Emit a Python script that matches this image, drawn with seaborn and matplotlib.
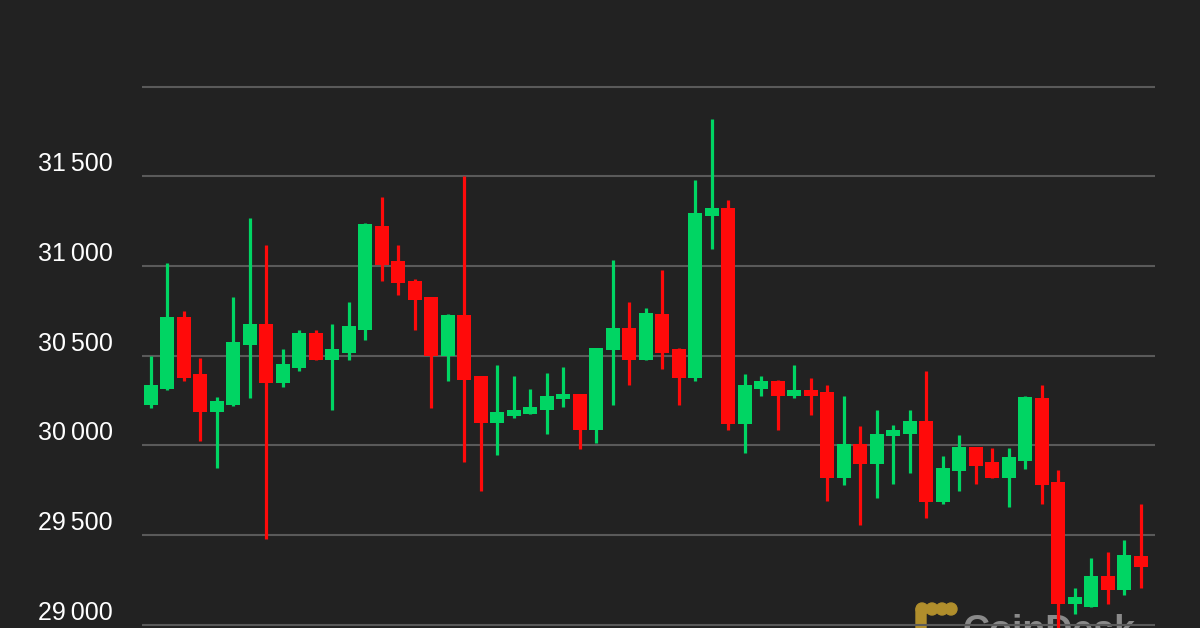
import numpy as np
import pandas as pd
import matplotlib
matplotlib.use("Agg")
import matplotlib.pyplot as plt
import seaborn as sns
from matplotlib.transforms import blended_transform_factory
from matplotlib.patches import FancyBboxPatch, Circle

# candle values (one per period)
opens = [30227, 30316, 30716, 30396, 30186, 30227, 30558, 30677, 30346, 30433,
         30628, 30474, 30517, 30645, 31225, 31026, 30916, 30827, 30498, 30725,
         30385, 30125, 30162, 30177, 30195, 30257, 30284, 30087, 30530, 30654,
         30478, 30734, 30535, 30376, 31277, 31325, 30117, 30316, 30357, 30275,
         30307, 30296, 29818, 30006, 29898, 30050, 30065, 30136, 29684, 29857,
         29994, 29907, 29818, 29916, 30266, 29796, 29117, 29098, 29275, 29195,
         29383]
highs = [30496, 31017, 30747, 30487, 30270, 30827, 31268, 31115, 30537, 30645,
         30645, 30677, 30797, 31240, 31387, 31115, 30925, 30827, 30734, 31500,
         30385, 30446, 30385, 30316, 30405, 30437, 30288, 30545, 31035, 30797,
         30766, 30976, 30545, 31478, 31818, 31366, 30396, 30385, 30366, 30446,
         30376, 30335, 30275, 30106, 30195, 30115, 30195, 30415, 29944, 30056,
         29994, 29985, 29985, 30275, 30338, 29864, 29206, 29374, 29405, 29474,
         29675]
lows = [30210, 30310, 30357, 30024, 29875, 30220, 30264, 29479, 30325, 30415,
        30474, 30195, 30474, 30586, 30915, 30837, 30645, 30208, 30357, 29907,
        29745, 29948, 30154, 30177, 30065, 30217, 29978, 30015, 30227, 30338,
        30478, 30428, 30227, 30357, 31097, 30087, 29957, 30275, 30087, 30264,
        30167, 29688, 29777, 29558, 29708, 29786, 29848, 29597, 29675, 29745,
        29786, 29818, 29656, 29868, 29675, 28950, 29061, 29098, 29117, 29167,
        29206]
closes = [30335, 30716, 30376, 30186, 30245, 30576, 30677, 30346, 30455, 30628,
          30474, 30535, 30666, 31236, 31006, 30905, 30809, 30498, 30725, 30366,
          30125, 30186, 30195, 30217, 30275, 30288, 30087, 30545, 30654, 30478,
          30738, 30517, 30377, 31296, 31325, 30117, 30335, 30357, 30275, 30307,
          30275, 29818, 30006, 29898, 30065, 30084, 30136, 29684, 29875, 29994,
          29888, 29818, 29935, 30270, 29777, 29117, 29154, 29275, 29195, 29387,
          29325]

grid_levels = [29000, 29500, 30000, 30500, 31000, 31500, 32000]
label_levels = [29000, 29500, 30000, 30500, 31000, 31500]

BG = "#222222"
UP = "#00d563"
DOWN = "#ff0a0a"

df = pd.DataFrame({"open": opens, "high": highs, "low": lows, "close": closes})
df["idx"] = np.arange(len(df))
df["up"] = df["close"] >= df["open"]
df["color"] = np.where(df["up"], UP, DOWN)

sns.set_theme(style="dark", rc={"axes.facecolor": BG, "figure.facecolor": BG})
plt.rcParams["font.family"] = ["Liberation Sans", "DejaVu Sans"]

fig = plt.figure(figsize=(12, 6.28), dpi=100)
ax = fig.add_axes([142 / 1200, 0, 1013 / 1200, 1])

# watermark behind the candles (cut by the bottom edge, like the original)
ax.text(963, -22, "CoinDesk", transform=None, fontsize=27, fontweight="bold",
        color="#8a8a8a", ha="left", va="bottom", zorder=0.5)
gold = "#b08e2c"
for cx in [922, 932, 942, 951]:
    ax.add_patch(Circle((cx, 19), 6, transform=None, color=gold, zorder=0.5))
ax.add_patch(FancyBboxPatch((916, -5), 10, 26, boxstyle="round,pad=0,rounding_size=3",
                            transform=None, color=gold, zorder=0.5))

# wicks
ax.vlines(df["idx"], df["low"], df["high"], colors=df["color"], linewidth=2.3, zorder=2)
# bodies
bottoms = df[["open", "close"]].min(axis=1)
heights = (df["close"] - df["open"]).abs().clip(lower=18)
ax.bar(df["idx"], heights, bottom=bottoms, width=0.85, color=df["color"],
       linewidth=0, zorder=3)

ax.set_xlim(-0.53, 60.87)
ax.set_ylim(28983, 32482)
ax.set_yticks(grid_levels)
ax.set_yticklabels([])
ax.set_xticks([])
ax.tick_params(left=False, bottom=False)
ax.grid(axis="y", color="#5a5a5a", linewidth=1.5, zorder=1)
ax.grid(axis="x", visible=False)
ax.set_axisbelow(True)
for s in ax.spines.values():
    s.set_visible(False)

trans = blended_transform_factory(ax.transAxes, ax.transData)
for lv in label_levels:
    txt = f"{lv // 1000}\u2009{lv % 1000:03d}"
    ax.text(-0.0286, lv + 28, txt, transform=trans, ha="right", va="baseline",
            fontsize=18, color="white")

fig.savefig("out.png", dpi=100, facecolor=BG)
